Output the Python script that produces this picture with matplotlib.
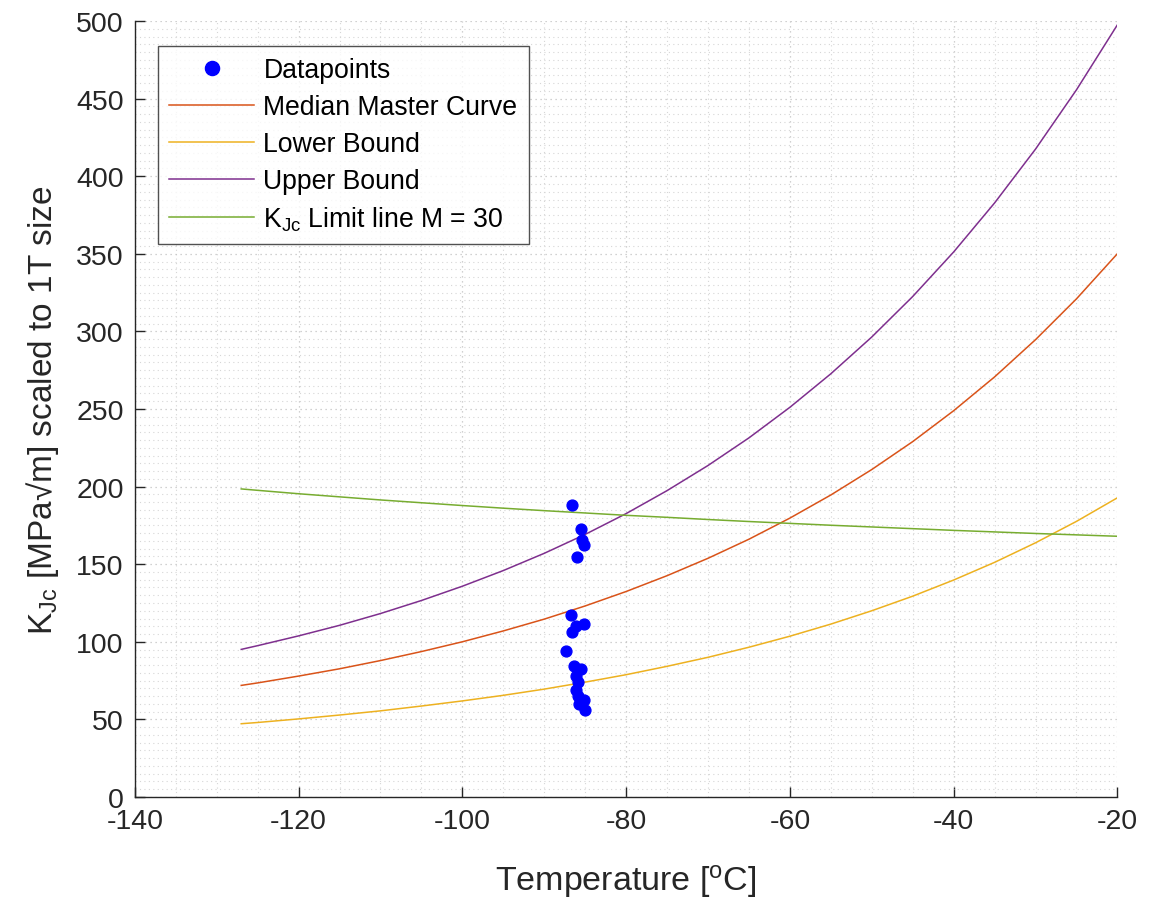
import matplotlib
matplotlib.use("Agg")
import matplotlib.pyplot as plt
from matplotlib.ticker import MultipleLocator

plt.rcParams['font.family'] = ['Liberation Sans', 'DejaVu Sans']
plt.rcParams['mathtext.fontset'] = 'custom'
plt.rcParams['mathtext.rm'] = 'Liberation Sans'
plt.rcParams['mathtext.it'] = 'Liberation Sans'
plt.rcParams['axes.unicode_minus'] = False

# measured specimens
data_T = [-86.6, -85.5, -85.4, -85.1, -86.0, -86.7, -85.2, -86.1, -86.6, -87.3,
          -86.4, -85.5, -86.1, -85.9, -86.1, -85.9, -85.2, -85.7, -85.0]
data_K = [188.3, 172.7, 165.8, 162.6, 154.8, 117.5, 111.5, 110.4, 106.5, 93.9,
          84.6, 82.5, 78.2, 73.9, 69.1, 65.3, 62.7, 59.9, 56.1]

# curves
temps = [-127, -125, -120, -115, -110, -105, -100, -95, -90, -85, -80, -75,
         -70, -65, -60, -55, -50, -45, -40, -35, -30, -25, -20]
median = [71.9, 73.5, 77.9, 82.6, 87.9, 93.7, 100.0, 107.0, 114.6, 123.1, 132.4, 142.6,
          153.8, 166.1, 179.7, 194.6, 211.0, 229.0, 248.9, 270.7, 294.7, 321.0, 350.1]
lower = [47.2, 48.0, 50.3, 52.8, 55.5, 58.6, 61.9, 65.5, 69.5, 74.0, 78.8, 84.2,
         90.0, 96.5, 103.6, 111.4, 120.0, 129.4, 139.8, 151.2, 163.8, 177.6, 192.8]
upper = [95.1, 97.5, 103.8, 110.6, 118.2, 126.6, 135.8, 145.9, 157.0, 169.2, 182.6, 197.4,
         213.6, 231.4, 251.1, 272.7, 296.4, 322.5, 351.2, 382.8, 417.5, 455.7, 497.6]
limit = [198.5, 197.6, 195.4, 193.4, 191.4, 189.6, 187.8, 186.1, 184.5, 183.0, 181.5, 180.2,
         178.8, 177.5, 176.3, 175.1, 174.0, 172.9, 171.8, 170.8, 169.8, 168.9, 168.0]

fig = plt.figure(figsize=(11.52, 9.03), dpi=100)
ax = fig.add_axes([0.117, 0.1163, 0.853, 0.8593])

ax.plot(data_T, data_K, 'o', color='#0000ff', markersize=7.8, label='Datapoints', zorder=5)
ax.plot(temps, median, color='#D95319', lw=1.1, label='Median Master Curve')
ax.plot(temps, lower, color='#EDB120', lw=1.1, label='Lower Bound')
ax.plot(temps, upper, color='#7E2F8E', lw=1.1, label='Upper Bound')
ax.plot(temps, limit, color='#77AC30', lw=1.1, label=r'K$_{\mathrm{Jc}}$ Limit line M = 30')

ax.set_xlim(-140, -20)
ax.set_ylim(0, 500)
ax.xaxis.set_major_locator(MultipleLocator(20))
ax.yaxis.set_major_locator(MultipleLocator(50))
ax.xaxis.set_minor_locator(MultipleLocator(5))
ax.yaxis.set_minor_locator(MultipleLocator(5))
ax.grid(which='major', color='#c2c2c2', linestyle=(0, (1, 3)), lw=0.9)
ax.grid(which='minor', color='#d6d6d6', linestyle=(0, (1, 3)), lw=0.8)
ax.set_axisbelow(True)

for s in ['top', 'right']:
    ax.spines[s].set_visible(False)
for s in ['left', 'bottom']:
    ax.spines[s].set_color('#262626')
    ax.spines[s].set_linewidth(1.0)
ax.tick_params(which='major', direction='in', length=7, width=1, colors='#262626',
               labelsize=20.5, pad=8)
ax.tick_params(which='minor', length=0)

ax.set_xlabel(r'Temperature [$^{\mathrm{o}}$C]', fontsize=24.5, color='#262626', labelpad=20)
ax.set_ylabel('K$_{\\mathrm{Jc}}$ [MPa\u221am] scaled to 1T size',
              fontsize=24, color='#262626', labelpad=11)

leg = ax.legend(loc='upper left', fontsize=19.2, frameon=True, fancybox=False,
                edgecolor='#262626', handlelength=3.2, handletextpad=0.34,
                labelspacing=0.41, markerscale=1.3, borderpad=0.42,
                borderaxespad=0, bbox_to_anchor=(0.0234, 0.968))
leg.get_frame().set_linewidth(1.0)

fig.savefig('out.png', dpi=100)
